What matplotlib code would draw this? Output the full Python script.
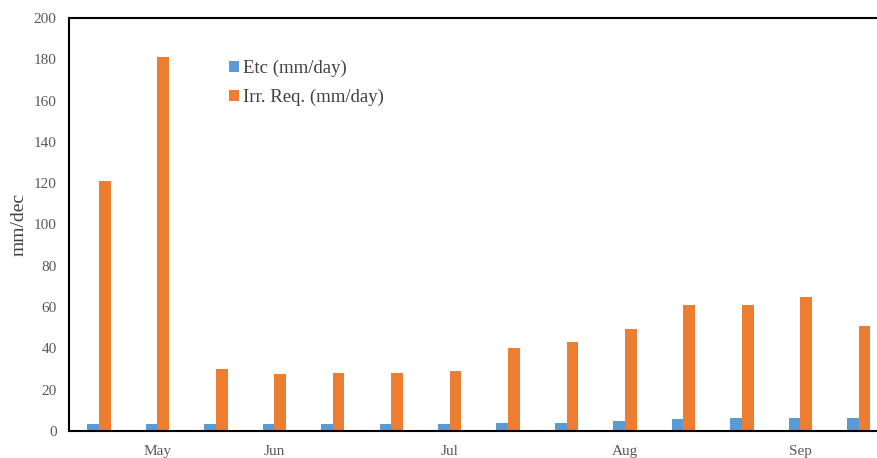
import matplotlib.pyplot as plt
import numpy as np

plt.rcParams['font.family'] = ['Liberation Serif', 'DejaVu Serif']

# Ten-day (decade) values, May to Sep
etc_mm = [3.2, 3.2, 3.2, 3.2, 3.2, 3.2, 3.2, 4.0, 4.0, 4.8, 5.6, 6.4, 6.4, 6.4]
irr_req = [121, 181, 30, 27.5, 28.2, 28.2, 29.1, 40, 43, 49.2, 60.8, 60.8, 64.7, 50.7]

month_pos = [1, 3, 6, 9, 12]
month_labels = ['May', 'Jun', 'Jul', 'Aug', 'Sep']

blue = '#5B9BD5'
orange = '#ED7D31'
text_col = '#404040'

fig = plt.figure(figsize=(8.78, 4.58), dpi=100)
ax = fig.add_axes([0.0786, 0.059, 0.9214, 0.9017])

x = np.arange(len(irr_req))
w = 0.2
ax.bar(x - w / 2, etc_mm, width=w, color=blue, label='Etc (mm/day)')
ax.bar(x + w / 2, irr_req, width=w, color=orange, label='Irr. Req. (mm/day)')

ax.set_xlim(-0.513, 13.33)
ax.set_ylim(0, 200)
ax.set_yticks(np.arange(0, 201, 20))
ax.set_xticks(month_pos)
ax.set_xticklabels(month_labels)
ax.tick_params(axis='both', length=0, labelsize=11, colors='#595959')
ax.tick_params(axis='y', pad=9)
ax.tick_params(axis='x', pad=10)

for side in ['top', 'left', 'bottom']:
    ax.spines[side].set_linewidth(1.5)
    ax.spines[side].set_color('black')
ax.spines['right'].set_visible(False)

ax.set_ylabel('mm/dec', fontsize=14, color=text_col)
ax.yaxis.set_label_coords(-0.051, 0.5)

leg = fig.legend(loc='upper left', bbox_to_anchor=(0.252, 0.885), frameon=False,
                 fontsize=13.5, handlelength=0.55, handleheight=0.55,
                 handletextpad=0.2, labelspacing=0.6, borderaxespad=0)
for t in leg.get_texts():
    t.set_color(text_col)

fig.savefig('out.png', dpi=100)
